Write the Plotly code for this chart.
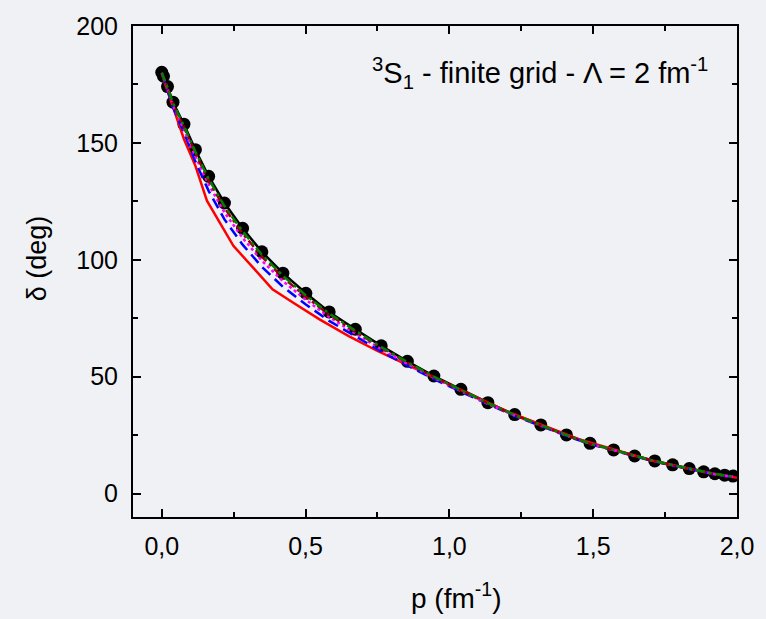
import plotly.graph_objects as go

# momentum grid (fm^-1) and phase shifts (deg) for the 3S1 channel
p_grid = [0.0, 0.006, 0.020, 0.039, 0.077, 0.117, 0.163, 0.218, 0.281, 0.348,
          0.421, 0.501, 0.582, 0.673, 0.763, 0.854, 0.946, 1.040, 1.134, 1.227,
          1.318, 1.407, 1.489, 1.571, 1.644, 1.714, 1.776, 1.834, 1.884, 1.923,
          1.957, 1.986]

delta_exact = [180.2, 178.5, 174.1, 167.4, 158.0, 147.1, 135.7, 124.3, 113.5, 103.4,
               94.3, 85.7, 77.7, 70.3, 63.2, 56.6, 50.3, 44.6, 38.9, 33.8,
               29.4, 25.1, 21.5, 18.7, 16.1, 14.0, 12.3, 10.7, 9.3, 8.5,
               7.9, 7.5]

delta_green = [180.0, 178.3, 173.8, 167.0, 157.3, 146.2, 134.6, 123.0, 112.2, 102.2,
               93.2, 84.8, 77.0, 69.7, 62.7, 56.2, 50.0, 44.3, 38.7, 33.6,
               29.2, 25.0, 21.4, 18.6, 16.0, 13.9, 12.2, 10.6, 9.2, 8.4,
               7.8, 7.3]

delta_brown = [180.0, 178.2, 173.6, 166.6, 156.8, 145.6, 133.9, 122.2, 111.3, 101.4,
               92.5, 84.2, 76.5, 69.3, 62.4, 56.0, 49.8, 44.2, 38.6, 33.5,
               29.1, 24.9, 21.3, 18.5, 15.9, 13.8, 12.1, 10.5, 9.1, 8.3,
               7.7, 7.2]

delta_magenta = [180.0, 178.0, 173.3, 166.0, 155.8, 144.2, 132.2, 120.3, 109.4, 99.6,
                 90.9, 82.9, 75.5, 68.5, 61.8, 55.5, 49.5, 43.9, 38.4, 33.4,
                 29.0, 24.8, 21.3, 18.5, 15.9, 13.8, 12.1, 10.5, 9.1, 8.3,
                 7.7, 7.2]

delta_blue = [180.0, 177.8, 172.8, 165.2, 154.5, 142.0, 129.5, 117.3, 106.5, 97.0,
              88.5, 80.9, 73.9, 67.2, 60.8, 54.8, 49.0, 43.6, 38.2, 33.2,
              28.9, 24.7, 21.2, 18.4, 15.8, 13.7, 12.0, 10.4, 9.0, 8.2,
              7.6, 7.1]

# coarser grid
p_red = [0.0, 0.04, 0.077, 0.117, 0.157, 0.249, 0.385, 0.46, 0.55, 0.65, 0.75, 0.95,
         1.2, 1.45, 1.7, 1.9, 2.0]
delta_red = [179.5, 165.0, 151.7, 140.2, 125.3, 106.0, 87.4, 81.4, 74.4, 67.4, 61.0, 49.5,
             35.2, 23.3, 14.3, 8.9, 6.8]

x_ticks = [0.0, 0.5, 1.0, 1.5, 2.0]
x_ticktext = ["0,0", "0,5", "1,0", "1,5", "2,0"]
y_ticks = [0, 50, 100, 150, 200]
y_ticktext = ["0", "50", "100", "150", "200"]

FONT = "Liberation Sans, Arial, sans-serif"
BG = "#f0f1f4"

fig = go.Figure()

fig.add_trace(go.Scatter(x=p_grid, y=delta_exact, mode="lines+markers",
                         line=dict(color="black", width=2.5),
                         marker=dict(color="black", size=13)))
fig.add_trace(go.Scatter(x=p_red, y=delta_red, mode="lines",
                         line=dict(color="#ff0000", width=2.5)))
fig.add_trace(go.Scatter(x=p_grid, y=delta_blue, mode="lines",
                         line=dict(color="#0000ff", width=2.5, dash="11px,6px")))
fig.add_trace(go.Scatter(x=p_grid, y=delta_magenta, mode="lines",
                         line=dict(color="#ff00ff", width=2.5, dash="3px,3px")))
fig.add_trace(go.Scatter(x=p_grid, y=delta_brown, mode="lines",
                         line=dict(color="#990000", width=2.5, dash="8px,4px,3px,4px")))
fig.add_trace(go.Scatter(x=p_grid, y=delta_green, mode="lines",
                         line=dict(color="#008000", width=2.5, dash="9px,4px,3px,4px")))

axis_common = dict(showline=True, linecolor="black", linewidth=2, mirror="ticks",
                   ticks="inside", ticklen=8, tickwidth=1.5, tickcolor="black",
                   showgrid=False, zeroline=False,
                   tickfont=dict(family=FONT, size=25, color="black"))

fig.update_xaxes(range=[-0.1, 2.0], tickvals=x_ticks, ticktext=x_ticktext,
                 minor=dict(ticks="inside", ticklen=5, tickwidth=1.5, dtick=0.25,
                            tick0=0, tickcolor="black"),
                 ticklabelstandoff=6, **axis_common)
fig.update_yaxes(range=[-10, 200], tickvals=y_ticks, ticktext=y_ticktext,
                 minor=dict(ticks="inside", ticklen=5, tickwidth=1.5, dtick=25,
                            tick0=0, tickcolor="black"),
                 ticklabelstandoff=8, **axis_common)

fig.add_annotation(text="<sup>3</sup>S<sub>1</sub> - finite grid - Λ = 2 fm<sup>-1</sup>",
                   xref="paper", yref="paper", x=0.955, y=0.905,
                   xanchor="right", yanchor="middle", showarrow=False,
                   font=dict(family=FONT, size=29, color="black"))
fig.add_annotation(text="p (fm<sup>-1</sup>)", xref="paper", yref="paper",
                   x=0.535, y=-0.16, xanchor="center", yanchor="middle",
                   showarrow=False, font=dict(family=FONT, size=28, color="black"))
fig.add_annotation(text="δ (deg)", xref="paper", yref="paper",
                   x=-0.159, y=0.527, xanchor="center", yanchor="middle",
                   textangle=-90, showarrow=False,
                   font=dict(family=FONT, size=27, color="black"))

fig.update_layout(width=766, height=619, showlegend=False,
                  margin=dict(l=133, r=23, t=26, b=102),
                  paper_bgcolor=BG, plot_bgcolor=BG)

fig.write_html("out.html")
